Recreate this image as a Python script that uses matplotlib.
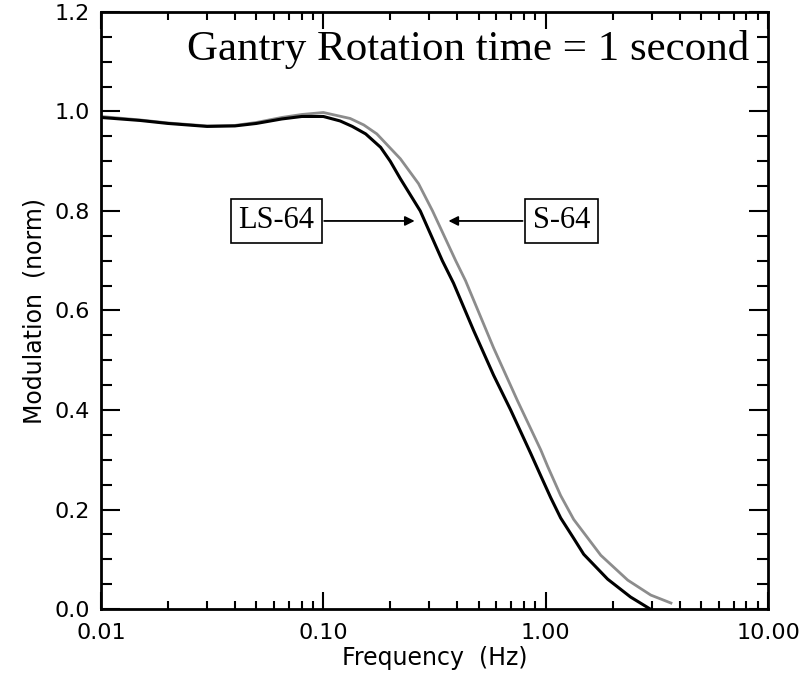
import numpy as np
import matplotlib
matplotlib.use("Agg")
import matplotlib.pyplot as plt
from matplotlib.ticker import MultipleLocator, FixedLocator, FixedFormatter

# LS-64 (black curve)
freq_ls = [0.01, 0.015, 0.02, 0.03, 0.04, 0.05, 0.065, 0.08, 0.1, 0.119, 0.135, 0.155,
           0.181, 0.20, 0.222, 0.273, 0.343, 0.385, 0.474, 0.583, 0.696, 0.856, 0.95,
           1.053, 1.168, 1.337, 1.483, 1.9, 2.41, 2.95]
mod_ls = [0.988, 0.982, 0.976, 0.970, 0.971, 0.976, 0.985, 0.99, 0.99, 0.981, 0.970, 0.955,
          0.928, 0.90, 0.865, 0.80, 0.70, 0.655, 0.56, 0.47, 0.40, 0.313, 0.268,
          0.224, 0.183, 0.142, 0.110, 0.060, 0.024, 0.0]

# S-64 (grey curve)
freq_s = [0.01, 0.015, 0.02, 0.03, 0.04, 0.05, 0.065, 0.08, 0.1, 0.132, 0.152, 0.174,
          0.222, 0.268, 0.31, 0.394, 0.436, 0.583, 0.748, 0.95, 1.02, 1.168, 1.337,
          1.77, 2.34, 2.97, 3.66]
mod_s = [0.99, 0.983, 0.977, 0.971, 0.972, 0.978, 0.988, 0.994, 0.998, 0.986, 0.973, 0.955,
         0.905, 0.855, 0.80, 0.70, 0.66, 0.525, 0.418, 0.32, 0.287, 0.228, 0.18,
         0.108, 0.058, 0.028, 0.012]

xticks = [0.01, 0.1, 1, 10]
xticklabels = ["0.01", "0.10", "1.00", "10.00"]

fig = plt.figure(figsize=(8.05, 6.82), dpi=100)
ax = fig.add_axes([101/805, 1-609/682, (768-101)/805, (609-12)/682])

ax.plot(freq_s, mod_s, color="#8c8c8c", lw=2.0)
ax.plot(freq_ls, mod_ls, color="black", lw=2.2)

ax.set_xscale("log")
ax.set_xlim(0.01, 10)
ax.set_ylim(0, 1.2)
ax.xaxis.set_major_locator(FixedLocator(xticks))
ax.xaxis.set_major_formatter(FixedFormatter(xticklabels))
ax.yaxis.set_major_locator(MultipleLocator(0.2))
ax.yaxis.set_minor_locator(MultipleLocator(0.05))
ax.yaxis.set_major_formatter(plt.FormatStrFormatter("%.1f"))

ax.tick_params(which="both", direction="in", top=True, right=True, width=1.5, labelsize=16)
ax.tick_params(axis="y", which="major", length=14, pad=8)
ax.tick_params(axis="y", which="minor", length=8)
ax.tick_params(axis="x", which="major", length=12, pad=10)
ax.tick_params(axis="x", which="minor", length=6)
for s in ax.spines.values():
    s.set_linewidth(2)

ax.set_xlabel("Frequency  (Hz)", fontsize=17, labelpad=2)
ax.set_ylabel("Modulation  (norm)", fontsize=17, labelpad=6)

ax.text(0.55, 1.125, "Gantry Rotation time = 1 second", family="Liberation Serif",
        fontsize=31, ha="center", va="center", transform=ax.get_yaxis_transform())

box = dict(boxstyle="square,pad=0.25", fc="white", ec="black", lw=1.2)
ax.annotate("", xy=(0.265, 0.78), xytext=(0.098, 0.78),
            arrowprops=dict(arrowstyle="-|>", color="black", lw=1.3, mutation_scale=14))
ax.annotate("", xy=(0.355, 0.78), xytext=(0.81, 0.78),
            arrowprops=dict(arrowstyle="-|>", color="black", lw=1.3, mutation_scale=14))
ax.text(0.0614, 0.78, "LS-64", family="Liberation Serif", fontsize=22,
        ha="center", va="center", bbox=box)
ax.text(1.18, 0.78, "S-64", family="Liberation Serif", fontsize=22,
        ha="center", va="center", bbox=box)

fig.savefig("out.png", dpi=100)
